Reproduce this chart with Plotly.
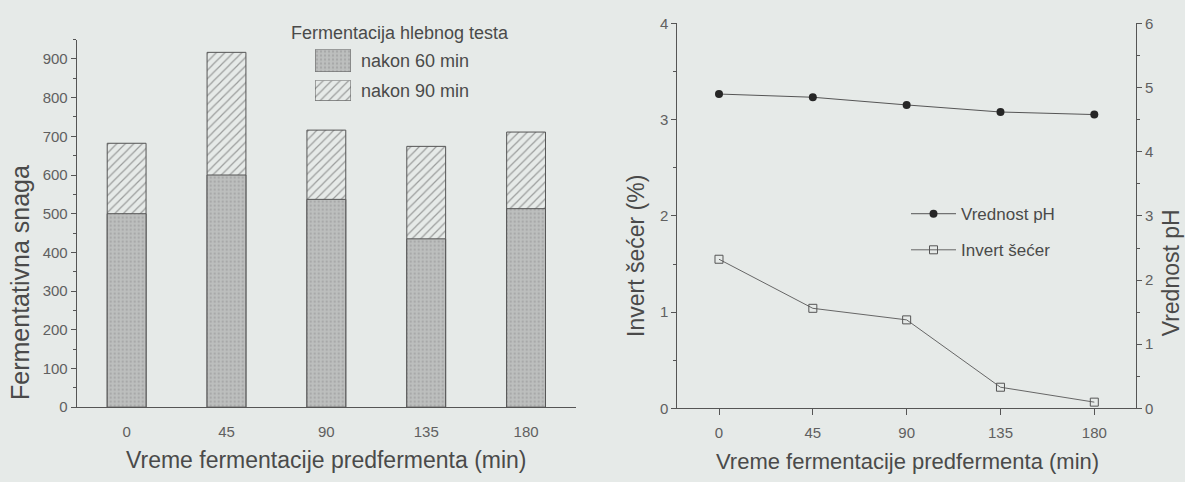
import plotly.graph_objects as go

# ---------------- data ----------------
times = [0, 45, 90, 135, 180]
snaga_60 = [500, 600, 537, 435, 513]      # after 60 min
snaga_90 = [682, 917, 716, 674, 711]      # after 90 min (total bar height)

ph_values = [4.90, 4.85, 4.73, 4.62, 4.58]
invert_secer = [1.55, 1.04, 0.92, 0.22, 0.065]

x_ticks = [0, 45, 90, 135, 180]
left_y_ticks = [0, 100, 200, 300, 400, 500, 600, 700, 800, 900]

legend_title = "Fermentacija hlebnog testa"
legend_60 = "nakon 60 min"
legend_90 = "nakon 90 min"
x_title = "Vreme fermentacije predfermenta (min)"
y_title_left = "Fermentativna snaga"
y_title_r1 = "Invert šećer (%)"
y_title_r2 = "Vrednost pH"
name_ph = "Vrednost pH"
name_inv = "Invert šećer"

# ---------------- style ----------------
W, H = 1185, 482
BG = "#e6eae8"
INK = "#4a4a4a"
LINE = "#555555"
FONT = "Liberation Sans, Arial, sans-serif"
BARFILL = "#bdbfbe"
STIP = dict(shape=".", fgcolor="#929292", bgcolor=BARFILL, size=4, solidity=0.28)
HATCH = dict(shape="/", fgcolor="#4f4f4f", bgcolor=BG, size=6, solidity=0.2)


def px(x):
    return x / W


def py(y):
    return 1 - y / H


fig = go.Figure()

# ---------------- left chart: stacked (overlay) bars ----------------
fig.add_trace(go.Bar(x=times, y=snaga_90, width=17.5, xaxis="x", yaxis="y",
                     marker=dict(color=BG, pattern=HATCH, line=dict(color="#555", width=1)),
                     showlegend=False, name=legend_90))
fig.add_trace(go.Bar(x=times, y=snaga_60, width=17.5, xaxis="x", yaxis="y",
                     marker=dict(color=BARFILL, pattern=STIP, line=dict(color="#555", width=1)),
                     showlegend=False, name=legend_60))

# legend swatches for left chart (small helper axes)
fig.add_trace(go.Bar(x=[0], y=[1], width=1, xaxis="x4", yaxis="y4", showlegend=False,
                     marker=dict(color=BARFILL, pattern=STIP, line=dict(color="#555", width=1)),
                     hoverinfo="skip"))
fig.add_trace(go.Bar(x=[0], y=[1], width=1, xaxis="x5", yaxis="y5", showlegend=False,
                     marker=dict(color=BG, pattern=HATCH, line=dict(color="#555", width=1)),
                     hoverinfo="skip"))

# ---------------- right chart: lines ----------------
fig.add_trace(go.Scatter(x=times, y=ph_values, xaxis="x2", yaxis="y3", name=name_ph,
                         mode="lines+markers", legend="legend2",
                         line=dict(color="#555", width=1),
                         marker=dict(symbol="circle", size=8, color="#262626"),
                         legendgroup="a"))
fig.add_trace(go.Scatter(x=times, y=invert_secer, xaxis="x2", yaxis="y2", name=name_inv,
                         mode="lines+markers", legend="legend2",
                         line=dict(color="#666", width=1),
                         marker=dict(symbol="square-open", size=8, color="#555",
                                     line=dict(width=1)),
                         legendgroup="b"))

tickfont = dict(family=FONT, size=15, color="#606060")
axis_common = dict(showgrid=False, zeroline=False, showline=True, linecolor=LINE,
                   linewidth=1, tickcolor=LINE, tickfont=tickfont)

left_dom_x = [px(76.7), px(576)]
left_dom_y = [py(412.7), py(31.7)]
right_dom_x = [px(677.3), px(1136)]
right_dom_y = [py(414), py(15)]

fig.update_layout(
    width=W, height=H, autosize=False,
    margin=dict(l=0, r=0, t=0, b=0),
    paper_bgcolor=BG, plot_bgcolor="rgba(0,0,0,0)",
    font=dict(family=FONT, color=INK),
    barmode="overlay",
    xaxis=dict(domain=left_dom_x, anchor="y", range=[-22.5, 202.5],
               tickvals=x_ticks, ticks="", ticklabelstandoff=11, **axis_common),
    yaxis=dict(domain=left_dom_y, anchor="x", range=[0, 950], tickvals=left_y_ticks,
               ticks="outside", ticklen=5,
               minor=dict(dtick=50, ticks="outside", ticklen=3, tickcolor=LINE),
               **axis_common),
    xaxis2=dict(domain=right_dom_x, anchor="y2", range=[-20, 200], tickvals=x_ticks,
                ticks="outside", ticklen=6, ticklabelstandoff=5, **axis_common),
    xaxis3=dict(domain=right_dom_x, overlaying="x2", anchor="y2", side="top",
                range=[-20, 200], tickvals=x_ticks, ticks="inside", ticklen=6,
                showticklabels=False, **axis_common),
    yaxis2=dict(domain=right_dom_y, anchor="x2", range=[0, 4], dtick=1,
                ticks="outside", ticklen=5,
                minor=dict(dtick=0.5, ticks="outside", ticklen=3, tickcolor=LINE),
                **axis_common),
    yaxis3=dict(overlaying="y2", anchor="x2", side="right", range=[0, 6], dtick=1,
                ticks="outside", ticklen=5,
                minor=dict(dtick=0.5, ticks="outside", ticklen=3, tickcolor=LINE),
                **axis_common),
    xaxis4=dict(domain=[px(315), px(351)], anchor="y4", range=[-0.5, 0.5], visible=False),
    yaxis4=dict(domain=[py(65), py(42)], anchor="x4", range=[0, 1], visible=False),
    xaxis5=dict(domain=[px(315), px(351)], anchor="y5", range=[-0.5, 0.5], visible=False),
    yaxis5=dict(domain=[py(95), py(74)], anchor="x5", range=[0, 1], visible=False),
    showlegend=True,
    legend2=dict(x=px(906), y=py(194), xanchor="left", yanchor="top",
                 bgcolor="rgba(0,0,0,0)", font=dict(family=FONT, size=17, color=INK),
                 itemwidth=45, tracegroupgap=11, traceorder="grouped"),
)

ann = []
ann.append(dict(text=legend_title, x=px(289), y=py(25), xanchor="left", yanchor="middle",
                font=dict(size=18, color=INK)))
ann.append(dict(text=legend_60, x=px(359), y=py(54), xanchor="left", yanchor="middle",
                font=dict(size=18, color=INK)))
ann.append(dict(text=legend_90, x=px(359), y=py(85), xanchor="left", yanchor="middle",
                font=dict(size=18, color=INK)))
ann.append(dict(text=y_title_left, x=px(20), y=py(284), textangle=-90,
                xanchor="center", yanchor="middle", font=dict(size=25, color=INK)))
ann.append(dict(text=x_title, x=px(326), y=py(467), xanchor="center", yanchor="middle",
                font=dict(size=23, color=INK)))
ann.append(dict(text=x_title, x=px(907), y=py(469), xanchor="center", yanchor="middle",
                font=dict(size=22, color=INK)))
ann.append(dict(text=y_title_r1, x=px(636), y=py(256), textangle=-90,
                xanchor="center", yanchor="middle", font=dict(size=23, color=INK)))
ann.append(dict(text=y_title_r2, x=px(1171), y=py(274), textangle=-90,
                xanchor="center", yanchor="middle", font=dict(size=23, color=INK)))
for a in ann:
    a.update(xref="paper", yref="paper", showarrow=False)
fig.update_layout(annotations=ann)

fig.write_html("out.html")
